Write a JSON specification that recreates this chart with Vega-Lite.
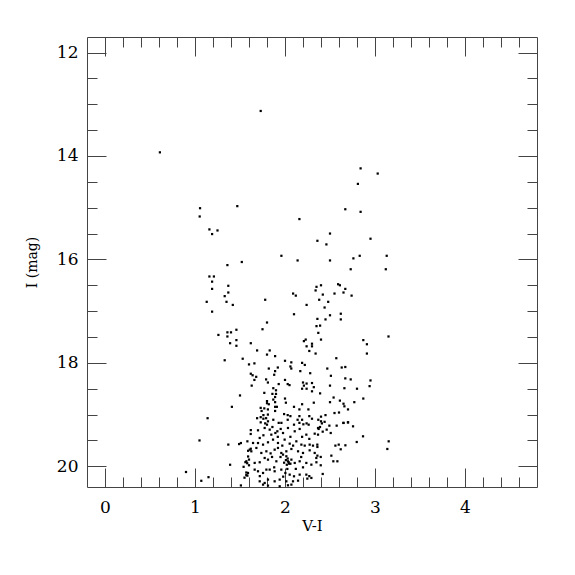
{
  "$schema": "https://vega.github.io/schema/vega-lite/v6.json",
  "width": 450,
  "height": 450,
  "autosize": "none",
  "padding": {"left": 87, "top": 37, "right": 38, "bottom": 88},
  "config": {
    "view": {"stroke": "#444", "strokeWidth": 1},
    "font": "DejaVu Serif",
    "axis": {"grid": false, "domain": false, "tickColor": "#444", "tickWidth": 1, "labelColor": "#000", "titleColor": "#000", "labelFont": "DejaVu Serif", "titleFont": "DejaVu Serif", "titleFontWeight": "normal"}
  },
  "data": {"values": [
    {"vi":0.61,"imag":13.93},{"vi":1.73,"imag":13.13},{"vi":1.056,"imag":15.01},{"vi":1.052,"imag":15.17},{"vi":1.47,"imag":14.97},
    {"vi":2.16,"imag":15.22},{"vi":1.16,"imag":15.42},{"vi":1.25,"imag":15.44},{"vi":1.19,"imag":15.51},{"vi":2.50,"imag":15.50},
    {"vi":2.36,"imag":15.64},{"vi":2.46,"imag":15.71},{"vi":1.96,"imag":15.93},{"vi":2.14,"imag":16.02},{"vi":2.50,"imag":16.02},
    {"vi":1.52,"imag":16.05},{"vi":1.36,"imag":16.11},{"vi":1.16,"imag":16.33},{"vi":1.21,"imag":16.33},{"vi":1.19,"imag":16.43},
    {"vi":1.19,"imag":16.57},{"vi":1.37,"imag":16.51},{"vi":1.37,"imag":16.64},{"vi":1.33,"imag":16.71},{"vi":1.13,"imag":16.82},
    {"vi":1.35,"imag":16.82},{"vi":1.42,"imag":16.88},{"vi":1.19,"imag":17.01},{"vi":1.78,"imag":16.78},{"vi":2.09,"imag":16.66},
    {"vi":2.12,"imag":16.70},{"vi":2.24,"imag":16.88},{"vi":2.35,"imag":16.53},{"vi":2.40,"imag":16.50},{"vi":2.34,"imag":16.60},
    {"vi":2.42,"imag":16.68},{"vi":2.55,"imag":16.66},{"vi":2.59,"imag":16.48},{"vi":2.38,"imag":16.78},{"vi":2.48,"imag":16.82},
    {"vi":2.44,"imag":16.93},{"vi":2.10,"imag":17.06},{"vi":2.50,"imag":17.08},{"vi":2.45,"imag":17.16},{"vi":1.80,"imag":17.22},
    {"vi":1.75,"imag":17.35},{"vi":2.36,"imag":17.15},{"vi":2.35,"imag":17.29},{"vi":2.39,"imag":17.28},{"vi":2.37,"imag":17.42},
    {"vi":2.40,"imag":17.55},{"vi":1.26,"imag":17.46},{"vi":1.36,"imag":17.49},{"vi":1.36,"imag":17.41},{"vi":1.40,"imag":17.41},
    {"vi":1.46,"imag":17.36},{"vi":1.46,"imag":17.56},{"vi":1.39,"imag":17.62},{"vi":1.46,"imag":17.67},{"vi":1.62,"imag":17.62},
    {"vi":1.69,"imag":17.76},{"vi":1.83,"imag":17.76},{"vi":1.80,"imag":17.84},{"vi":1.89,"imag":17.87},{"vi":1.53,"imag":17.92},
    {"vi":2.21,"imag":17.58},{"vi":2.23,"imag":17.55},{"vi":2.24,"imag":17.68},{"vi":2.30,"imag":17.63},{"vi":2.30,"imag":17.68},
    {"vi":2.27,"imag":17.77},{"vi":2.34,"imag":17.82},{"vi":2.57,"imag":17.91},
    {"vi":2.84,"imag":14.24},{"vi":3.03,"imag":14.34},{"vi":2.81,"imag":14.54},{"vi":2.67,"imag":15.03},{"vi":2.84,"imag":15.08},
    {"vi":2.95,"imag":15.60},{"vi":3.13,"imag":15.93},{"vi":2.83,"imag":15.93},{"vi":2.76,"imag":15.98},{"vi":2.73,"imag":16.19},
    {"vi":3.12,"imag":16.19},{"vi":2.61,"imag":16.50},{"vi":2.67,"imag":16.57},{"vi":2.65,"imag":16.64},{"vi":2.74,"imag":16.70},
    {"vi":2.62,"imag":17.05},{"vi":2.62,"imag":17.16},{"vi":2.87,"imag":17.56},{"vi":2.91,"imag":17.64},{"vi":2.91,"imag":17.82},
    {"vi":3.15,"imag":17.49},
    {"vi":1.33,"imag":17.95},{"vi":1.60,"imag":18.03},{"vi":1.50,"imag":18.63},{"vi":1.41,"imag":18.85},{"vi":1.14,"imag":19.07},
    {"vi":2.00,"imag":17.96},{"vi":2.07,"imag":17.99},{"vi":2.19,"imag":18.00},{"vi":2.22,"imag":18.04},{"vi":1.66,"imag":18.01},
    {"vi":1.82,"imag":18.11},{"vi":1.92,"imag":18.09},{"vi":2.06,"imag":18.07},{"vi":2.07,"imag":18.11},{"vi":1.89,"imag":18.16},
    {"vi":2.17,"imag":18.16},{"vi":2.28,"imag":18.20},{"vi":1.62,"imag":18.21},{"vi":1.64,"imag":18.24},{"vi":1.68,"imag":18.27},
    {"vi":1.88,"imag":18.23},{"vi":1.66,"imag":18.33},{"vi":1.79,"imag":18.32},{"vi":2.00,"imag":18.33},{"vi":1.81,"imag":18.38},
    {"vi":1.93,"imag":18.41},{"vi":2.03,"imag":18.41},{"vi":2.05,"imag":18.43},{"vi":2.20,"imag":18.38},{"vi":2.24,"imag":18.40},
    {"vi":2.30,"imag":18.39},{"vi":2.21,"imag":18.44},{"vi":1.63,"imag":18.44},{"vi":1.87,"imag":18.49},{"vi":2.19,"imag":18.50},
    {"vi":2.24,"imag":18.50},{"vi":2.32,"imag":18.47},{"vi":1.90,"imag":18.53},{"vi":1.77,"imag":18.58},{"vi":2.30,"imag":18.55},
    {"vi":1.86,"imag":18.60},{"vi":1.90,"imag":18.60},{"vi":1.89,"imag":18.66},{"vi":2.00,"imag":18.69},{"vi":1.87,"imag":18.71},
    {"vi":1.80,"imag":18.74},{"vi":1.80,"imag":18.78},{"vi":1.82,"imag":18.80},{"vi":1.89,"imag":18.76},{"vi":2.32,"imag":18.77},
    {"vi":2.01,"imag":18.77},{"vi":1.89,"imag":18.85},{"vi":1.91,"imag":18.85},{"vi":2.10,"imag":18.85},{"vi":2.19,"imag":18.80},
    {"vi":1.73,"imag":18.87},{"vi":1.77,"imag":18.88},{"vi":2.16,"imag":18.90},{"vi":1.81,"imag":18.90},{"vi":1.89,"imag":18.93},
    {"vi":2.26,"imag":18.90},{"vi":1.74,"imag":18.93},{"vi":1.81,"imag":19.00},{"vi":1.76,"imag":19.01},{"vi":1.99,"imag":18.99},
    {"vi":2.03,"imag":19.01},{"vi":2.06,"imag":19.03},{"vi":1.73,"imag":19.05},{"vi":1.69,"imag":19.07},{"vi":1.76,"imag":19.08},
    {"vi":1.79,"imag":19.07},{"vi":1.87,"imag":19.10},{"vi":2.03,"imag":19.10},{"vi":2.16,"imag":19.03},{"vi":2.27,"imag":19.03},
    {"vi":2.30,"imag":19.08},{"vi":2.14,"imag":19.10},{"vi":2.19,"imag":19.10},{"vi":2.37,"imag":19.10},{"vi":1.73,"imag":19.15},
    {"vi":1.78,"imag":19.17},{"vi":1.93,"imag":19.16},{"vi":1.96,"imag":19.16},{"vi":2.16,"imag":19.16},{"vi":2.24,"imag":19.17},
    {"vi":2.47,"imag":18.11},{"vi":2.63,"imag":18.09},{"vi":2.67,"imag":18.08},{"vi":2.51,"imag":18.25},{"vi":2.67,"imag":18.30},
    {"vi":2.73,"imag":18.32},{"vi":2.95,"imag":18.34},{"vi":2.50,"imag":18.44},{"vi":2.66,"imag":18.49},{"vi":2.80,"imag":18.50},
    {"vi":2.94,"imag":18.45},{"vi":2.39,"imag":18.59},{"vi":2.54,"imag":18.67},{"vi":2.87,"imag":18.69},{"vi":2.50,"imag":18.76},
    {"vi":2.61,"imag":18.73},{"vi":2.65,"imag":18.79},{"vi":2.66,"imag":18.84},{"vi":2.77,"imag":18.76},{"vi":2.70,"imag":18.90},
    {"vi":2.55,"imag":18.97},{"vi":2.60,"imag":18.96},{"vi":2.45,"imag":19.01},{"vi":2.40,"imag":19.04},{"vi":2.40,"imag":19.13},
    {"vi":2.44,"imag":19.14},{"vi":2.41,"imag":19.17},{"vi":2.65,"imag":19.16},{"vi":2.70,"imag":19.15},
    {"vi":1.05,"imag":19.50},{"vi":1.37,"imag":19.58},{"vi":1.49,"imag":19.57},{"vi":1.51,"imag":19.55},{"vi":1.59,"imag":19.70},
    {"vi":1.59,"imag":19.81},{"vi":1.60,"imag":19.87},{"vi":1.39,"imag":19.97},{"vi":1.56,"imag":19.92},{"vi":1.58,"imag":19.94},
    {"vi":1.60,"imag":19.98},{"vi":1.54,"imag":20.01},{"vi":0.90,"imag":20.11},{"vi":1.57,"imag":20.12},{"vi":1.57,"imag":20.17},
    {"vi":1.55,"imag":20.22},{"vi":1.15,"imag":20.21},{"vi":1.07,"imag":20.28},{"vi":1.51,"imag":20.37},
    {"vi":1.811,"imag":19.130},{"vi":2.263,"imag":19.195},{"vi":1.800,"imag":19.195},{"vi":2.100,"imag":19.195},{"vi":2.204,"imag":19.188},
    {"vi":1.619,"imag":19.375},{"vi":1.700,"imag":19.304},{"vi":1.774,"imag":19.259},{"vi":1.830,"imag":19.291},{"vi":1.848,"imag":19.388},
    {"vi":1.893,"imag":19.356},{"vi":1.915,"imag":19.323},{"vi":1.952,"imag":19.278},{"vi":1.978,"imag":19.356},{"vi":2.033,"imag":19.259},
    {"vi":2.108,"imag":19.323},{"vi":2.163,"imag":19.278},{"vi":2.237,"imag":19.388},{"vi":2.330,"imag":19.369},{"vi":2.367,"imag":19.259},
    {"vi":1.582,"imag":19.517},{"vi":1.645,"imag":19.549},{"vi":1.719,"imag":19.452},{"vi":1.756,"imag":19.581},{"vi":1.811,"imag":19.536},
    {"vi":1.867,"imag":19.484},{"vi":1.922,"imag":19.549},{"vi":1.996,"imag":19.484},{"vi":2.052,"imag":19.562},{"vi":2.126,"imag":19.517},
    {"vi":2.182,"imag":19.581},{"vi":2.219,"imag":19.600},{"vi":2.274,"imag":19.581},{"vi":2.311,"imag":19.600},{"vi":2.359,"imag":19.581},
    {"vi":1.608,"imag":19.678},{"vi":1.626,"imag":19.710},{"vi":1.682,"imag":19.645},{"vi":1.737,"imag":19.742},{"vi":1.793,"imag":19.710},
    {"vi":1.885,"imag":19.678},{"vi":1.922,"imag":19.645},{"vi":1.959,"imag":19.742},{"vi":2.015,"imag":19.710},{"vi":2.071,"imag":19.665},
    {"vi":2.145,"imag":19.710},{"vi":2.200,"imag":19.742},{"vi":2.274,"imag":19.691},{"vi":2.330,"imag":19.742},
    {"vi":1.571,"imag":19.903},{"vi":1.663,"imag":19.935},{"vi":1.719,"imag":19.922},{"vi":1.774,"imag":19.839},{"vi":1.811,"imag":19.871},
    {"vi":1.856,"imag":19.819},{"vi":1.904,"imag":19.903},{"vi":1.978,"imag":19.774},{"vi":2.015,"imag":19.806},{"vi":2.033,"imag":19.903},
    {"vi":2.045,"imag":19.948},{"vi":2.071,"imag":19.871},{"vi":2.108,"imag":19.935},{"vi":2.163,"imag":19.903},{"vi":2.237,"imag":19.935},
    {"vi":2.293,"imag":19.968},{"vi":2.348,"imag":19.839},
    {"vi":1.589,"imag":20.129},{"vi":1.663,"imag":20.064},{"vi":1.700,"imag":20.096},{"vi":1.756,"imag":20.129},{"vi":1.793,"imag":20.064},
    {"vi":1.830,"imag":20.064},{"vi":1.885,"imag":20.096},{"vi":1.959,"imag":20.064},{"vi":2.004,"imag":20.129},{"vi":2.026,"imag":20.051},
    {"vi":2.052,"imag":20.161},{"vi":2.100,"imag":20.193},{"vi":2.163,"imag":20.161},{"vi":2.237,"imag":20.161},{"vi":2.293,"imag":20.225},
    {"vi":1.582,"imag":20.180},{"vi":1.719,"imag":20.290},{"vi":1.774,"imag":20.322},{"vi":1.811,"imag":20.257},{"vi":1.885,"imag":20.290},
    {"vi":1.941,"imag":20.257},{"vi":2.015,"imag":20.290},{"vi":2.089,"imag":20.290},{"vi":2.145,"imag":20.277},{"vi":2.248,"imag":20.238},
    {"vi":1.756,"imag":20.354},{"vi":1.811,"imag":20.373},{"vi":1.941,"imag":20.386},{"vi":2.033,"imag":20.367},{"vi":2.071,"imag":20.354},
    {"vi":2.20,"imag":20.02},{"vi":2.27,"imag":20.19},
    {"vi":2.389,"imag":19.240},{"vi":2.374,"imag":19.278},{"vi":2.419,"imag":19.330},{"vi":2.463,"imag":19.291},{"vi":2.508,"imag":19.356},
    {"vi":2.367,"imag":19.388},{"vi":2.360,"imag":19.626},{"vi":2.493,"imag":19.214},{"vi":2.574,"imag":19.214},{"vi":2.649,"imag":19.162},
    {"vi":2.700,"imag":19.150},{"vi":2.756,"imag":19.227},{"vi":2.867,"imag":19.420},{"vi":2.797,"imag":19.530},{"vi":2.560,"imag":19.600},
    {"vi":2.597,"imag":19.581},{"vi":2.671,"imag":19.594},{"vi":2.619,"imag":19.671},{"vi":3.152,"imag":19.517},{"vi":3.137,"imag":19.665},
    {"vi":2.360,"imag":19.794},{"vi":2.397,"imag":19.819},{"vi":2.515,"imag":19.794},{"vi":2.537,"imag":19.903},{"vi":2.582,"imag":19.903},
    {"vi":2.349,"imag":19.922},{"vi":2.397,"imag":19.980},{"vi":2.419,"imag":20.148},
    {"vi":2.01,"imag":19.88},{"vi":2.04,"imag":19.92},{"vi":2.02,"imag":19.97},{"vi":2.06,"imag":19.95},{"vi":1.99,"imag":19.93},
    {"vi":2.03,"imag":19.85},{"vi":1.62,"imag":19.30},{"vi":1.62,"imag":19.66},{"vi":1.86,"imag":19.24},{"vi":1.92,"imag":19.43},
    {"vi":1.97,"imag":19.60},{"vi":1.84,"imag":19.75},{"vi":1.95,"imag":19.82},{"vi":1.88,"imag":20.02},{"vi":1.72,"imag":20.19},
    {"vi":1.98,"imag":20.20},{"vi":2.12,"imag":20.05},{"vi":2.18,"imag":19.82},{"vi":2.09,"imag":19.60},{"vi":1.70,"imag":19.55},
    {"vi":2.06,"imag":19.43},{"vi":1.76,"imag":19.40},{"vi":2.27,"imag":19.47},{"vi":2.19,"imag":19.43}
  ]},
  "encoding": {
    "x": {"field": "vi", "type": "quantitative", "scale": {"domain": [-0.2, 4.8], "nice": false, "zero": false}},
    "y": {"field": "imag", "type": "quantitative", "scale": {"domain": [11.7, 20.4], "nice": false, "zero": false, "reverse": true}}
  },
  "layer": [
    {
      "mark": {"type": "square", "size": 5, "color": "#000", "opacity": 1},
      "encoding": {
        "x": {"field": "vi", "type": "quantitative", "axis": {
          "orient": "bottom", "title": "V-I", "titleFontSize": 15, "titlePadding": -6,
          "values": [0,0.2,0.4,0.6,0.8,1,1.2,1.4,1.6,1.8,2,2.2,2.4,2.6,2.8,3,3.2,3.4,3.6,3.8,4,4.2,4.4,4.6],
          "tickSize": {"condition": {"test": "abs(datum.value - round(datum.value)) < 0.01", "value": -19}, "value": -10},
          "labelExpr": "abs(datum.value - round(datum.value)) < 0.01 ? format(datum.value, 'd') : ''",
          "labelFontSize": 17, "labelPadding": 31, "labelFlush": false, "labelOverlap": false
        }},
        "y": {"field": "imag", "type": "quantitative", "axis": {
          "orient": "left", "title": "I (mag)", "titleFontSize": 14, "titlePadding": 17,
          "values": [12,12.5,13,13.5,14,14.5,15,15.5,16,16.5,17,17.5,18,18.5,19,19.5,20],
          "tickSize": {"condition": {"test": "datum.value % 2 == 0", "value": -19}, "value": -10},
          "labelExpr": "datum.value % 2 == 0 ? format(datum.value, 'd') : ''",
          "labelFontSize": 17, "labelPadding": 28, "labelFlush": false, "labelOverlap": false
        }}
      }
    },
    {
      "mark": {"type": "square", "size": 5, "color": "#000", "opacity": 0},
      "encoding": {
        "x": {"field": "vi", "type": "quantitative", "axis": {
          "orient": "top", "title": null, "labels": false,
          "values": [0,0.2,0.4,0.6,0.8,1,1.2,1.4,1.6,1.8,2,2.2,2.4,2.6,2.8,3,3.2,3.4,3.6,3.8,4,4.2,4.4,4.6],
          "tickSize": {"condition": {"test": "abs(datum.value - round(datum.value)) < 0.01", "value": -19}, "value": -10}
        }},
        "y": {"field": "imag", "type": "quantitative", "axis": {
          "orient": "right", "title": null, "labels": false,
          "values": [12,12.5,13,13.5,14,14.5,15,15.5,16,16.5,17,17.5,18,18.5,19,19.5,20],
          "tickSize": {"condition": {"test": "datum.value % 2 == 0", "value": -19}, "value": -10}
        }}
      }
    }
  ],
  "resolve": {"axis": {"x": "independent", "y": "independent"}}
}
